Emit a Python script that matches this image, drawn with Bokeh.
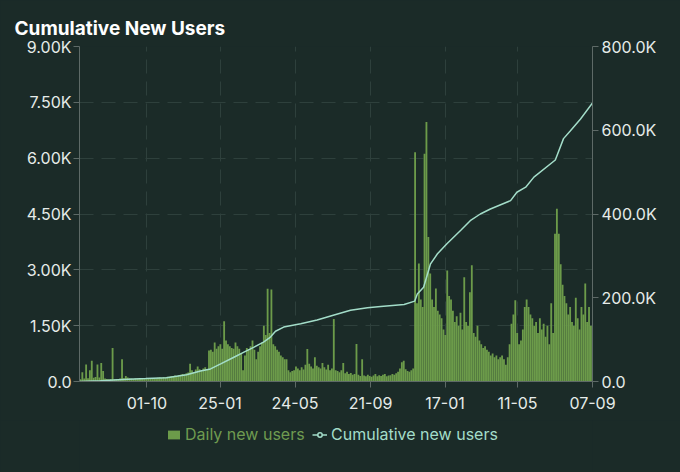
import pandas as pd
from bokeh.plotting import figure
from bokeh.layouts import column
from bokeh.models import (Range1d, LinearAxis, FixedTicker, DatetimeTickFormatter,
                          Legend, LegendItem, ColumnDataSource)
from bokeh.embed import file_html
from bokeh.resources import INLINE

# ---------------- data ----------------
START = "2022-06-16"
END = "2024-09-07"
BIN_DAYS = 3  # each value below is the daily count read for a 3-day slot

daily_new = [
    60, 250, 80, 460, 90, 300, 560, 100, 120, 460, 110, 500, 280, 80, 70, 60, 70, 900, 60, 70, 60, 80, 600, 90, 150,
    110, 90, 80, 70, 80, 75, 70, 80, 85, 70, 80, 90, 85, 80, 95, 90, 100, 110, 100, 120, 115, 130, 125, 140, 150,
    160, 150, 170, 180, 200, 190, 220, 240,
    480, 300, 250, 320, 400, 330, 300, 350, 380, 330, 830,
    850, 800, 1050, 880, 950, 1000, 880, 1620, 1100, 1000, 950, 900, 880, 1050, 950, 880, 750, 300,
    700, 900, 850, 950, 1100, 850, 600, 800, 950, 1050, 1500, 1250,
    2490, 1300, 2470, 1000, 950, 850, 800, 700, 650, 600, 600, 300, 250, 280, 300,
    400, 350, 300, 380, 320, 450, 870, 480, 400, 350, 650, 420, 380, 350, 500, 380, 320, 450, 300, 350, 1680,
    300, 280, 250, 300, 500, 220, 260, 200, 230, 180, 200, 1010,
    180, 150, 600, 160, 140, 180, 150, 130, 160, 200, 140, 170, 150, 180, 200, 140, 160, 170, 200, 180, 220, 260,
    350, 520, 560, 330, 280, 260, 300, 350,
    6160, 2100, 3170, 2200, 2000, 6120, 6970, 3880, 2900, 2200, 2000, 2500, 1900, 1800, 1700, 1400, 1250,
    2980, 2300, 2200, 1900, 1600, 1750, 1500, 1850, 1400, 2800, 1600, 1500, 2400, 3120, 1300, 1200, 1500, 1100,
    1000, 900, 950, 850, 800, 700, 750, 650, 700, 600, 650, 700, 600, 450, 650,
    1000, 1550, 1800, 2180, 1300, 1000, 1100, 1400, 2000, 2200, 2000, 1800, 1700, 1500, 1600, 1300, 1700, 1400,
    1550, 1200, 1500, 1000, 2100, 1300,
    3970, 4640, 3970, 3150, 2600, 2300, 2100, 1800, 2000, 1600, 1500, 2250, 1700, 1400, 2000, 1800, 2630, 1600,
    2000, 1500,
]

cum_dates = [
    "2022-06-16", "2022-07-19", "2022-08-24", "2022-09-29", "2022-11-01", "2022-12-03", "2022-12-25",
    "2023-01-10", "2023-01-26", "2023-02-16", "2023-03-04", "2023-03-20", "2023-04-04", "2023-04-15",
    "2023-04-23", "2023-05-06", "2023-06-02", "2023-06-28", "2023-07-25", "2023-08-20", "2023-09-16",
    "2023-10-07", "2023-11-13", "2023-11-30", "2023-12-04", "2023-12-14", "2023-12-25", "2024-01-05",
    "2024-01-20", "2024-02-11", "2024-02-26", "2024-03-13", "2024-03-29", "2024-04-30", "2024-05-10",
    "2024-05-24", "2024-06-06", "2024-07-10", "2024-07-23", "2024-08-03", "2024-08-19", "2024-09-07",
]
cum_users_k = [
    0, 2, 5, 7, 9, 16, 25,
    30, 42, 58, 70, 82, 94, 106,
    120, 130, 138, 147, 159, 170, 176,
    179, 184, 192, 209, 225, 281, 305,
    329, 361, 384, 400, 412, 432, 452,
    464, 488, 529, 580, 599, 627, 665,
]

x_tick_dates = ["2022-10-01", "2023-01-25", "2023-05-24", "2023-09-21", "2024-01-17", "2024-05-11", "2024-09-07"]
left_ticks = [0, 1500, 3000, 4500, 6000, 7500, 9000]
left_labels = ["0.0", "1.50K", "3.00K", "4.50K", "6.00K", "7.50K", "9.00K"]
right_ticks = [0, 200000, 400000, 600000, 800000]
right_labels = ["0.0", "200.0K", "400.0K", "600.0K", "800.0K"]
series_names = ["Daily new users", "Cumulative new users"]

# ---------------- style ----------------
BG = "#1b2b28"
GRID = "#2e403c"
AXIS = "#5e6a67"
TICK_TXT = "#e6ebe9"
BAR = "#6c9b4a"
BAR_TXT = "#6f9b50"
LINE = "#a3ddc9"
FONT = "Inter"

bar_dates = pd.date_range(START, periods=len(daily_new), freq=f"{BIN_DAYS}D") + pd.Timedelta(hours=36)
bar_src = ColumnDataSource(dict(x=bar_dates, y=daily_new))
cum_src = ColumnDataSource(dict(x=pd.to_datetime(cum_dates), y=[v * 1000 for v in cum_users_k]))

p = figure(width=680, height=420, output_backend="svg", toolbar_location=None,
           x_axis_type="datetime",
           x_range=Range1d(pd.Timestamp(START), pd.Timestamp(END)),
           y_range=Range1d(0, 9000),
           min_border_left=79, min_border_right=88, min_border_top=46, min_border_bottom=39,
           title="Cumulative New Users")
p.background_fill_color = BG
p.border_fill_color = BG
p.outline_line_color = None

p.title.text_font = FONT
p.title.text_font_size = "19px"
p.title.text_font_style = "bold"
p.title.text_color = "#ffffff"
p.title.align = "left"
p.title.offset = -65
p.title.standoff = 13

p.extra_y_ranges = {"cum": Range1d(0, 800000)}

bar_w = pd.Timedelta(days=BIN_DAYS).total_seconds() * 1000 * 0.97
bars = p.vbar(x="x", top="y", width=bar_w, bottom=0, source=bar_src,
              fill_color=BAR, line_color=None)
line = p.line(x="x", y="y", source=cum_src, y_range_name="cum", line_color=LINE, line_width=1.5)

# axes
xa = p.xaxis[0]
xa.ticker = FixedTicker(ticks=[pd.Timestamp(d).value // 10**6 for d in x_tick_dates])
fmt = "%d-%m"
xa.formatter = DatetimeTickFormatter(milliseconds=fmt, seconds=fmt, minsec=fmt, minutes=fmt, hourmin=fmt,
                                     hours=fmt, days=fmt, months=fmt, years=fmt)
ya = p.yaxis[0]
ya.ticker = FixedTicker(ticks=left_ticks)
ya.major_label_overrides = dict(zip(left_ticks, left_labels))

ra = LinearAxis(y_range_name="cum", ticker=FixedTicker(ticks=right_ticks))
ra.major_label_overrides = dict(zip(right_ticks, right_labels))
p.add_layout(ra, "right")

for ax in (xa, ya, ra):
    ax.axis_line_color = AXIS
    ax.major_tick_line_color = AXIS
    ax.minor_tick_line_color = None
    ax.major_tick_in = 0
    ax.major_tick_out = 6
    ax.major_label_text_color = TICK_TXT
    ax.major_label_text_font = FONT
    ax.major_label_text_font_size = "16px"
ya.major_label_standoff = 2
ra.major_label_standoff = 3
xa.major_label_standoff = 9

p.xgrid.ticker = xa.ticker
p.ygrid.ticker = ya.ticker
for g in (p.xgrid[0], p.ygrid[0]):
    g.grid_line_color = GRID
    g.grid_line_dash = "14 8"
    g.grid_line_width = 1

# ---------------- legend strip (separate figure so both labels keep their own colours) ----------------
# Its y window sits far above the data, so the series drawn in it stay out of view and only the legend glyphs show.
lf = figure(width=680, height=52, output_backend="svg", toolbar_location=None,
            x_axis_type="datetime",
            x_range=Range1d(pd.Timestamp(START), pd.Timestamp(END)),
            y_range=Range1d(5000000, 6000000),
            min_border_left=0, min_border_right=0, min_border_top=0, min_border_bottom=0)
lf.axis.visible = False
lf.grid.visible = False
lf.background_fill_color = BG
lf.border_fill_color = BG
lf.outline_line_color = None

lg_bar = lf.vbar(x="x", top="y", width=bar_w, source=bar_src, fill_color=BAR, line_color=None)
lg_line = lf.line(x="x", y="y", source=cum_src, line_color=LINE, line_width=1.5)
lg_dot = lf.scatter(x="x", y="y", source=cum_src, marker="circle", size=6,
                    fill_color=BG, line_color=LINE, line_width=1.5)

def make_legend(label, renderers, loc, color):
    lg = Legend(items=[LegendItem(label=label, renderers=renderers)], location=loc,
                orientation="horizontal", glyph_width=15, glyph_height=11, label_height=20,
                label_standoff=4, padding=0, margin=0, spacing=0,
                background_fill_alpha=0, border_line_color=None,
                label_text_color=color, label_text_font=FONT, label_text_font_size="16px")
    lf.add_layout(lg)
    return lg

make_legend(series_names[0], [lg_bar], (87, 28), BAR_TXT)
make_legend(series_names[1], [lg_line, lg_dot], (233, 28), LINE)

page = column(p, lf, spacing=0)
page.background = BG

template = """{% block preamble %}<style>html, body { background: #1b2b28; }</style>{% endblock %}"""
open("out.html", "w").write(file_html(page, INLINE, "Cumulative New Users", template=template))
